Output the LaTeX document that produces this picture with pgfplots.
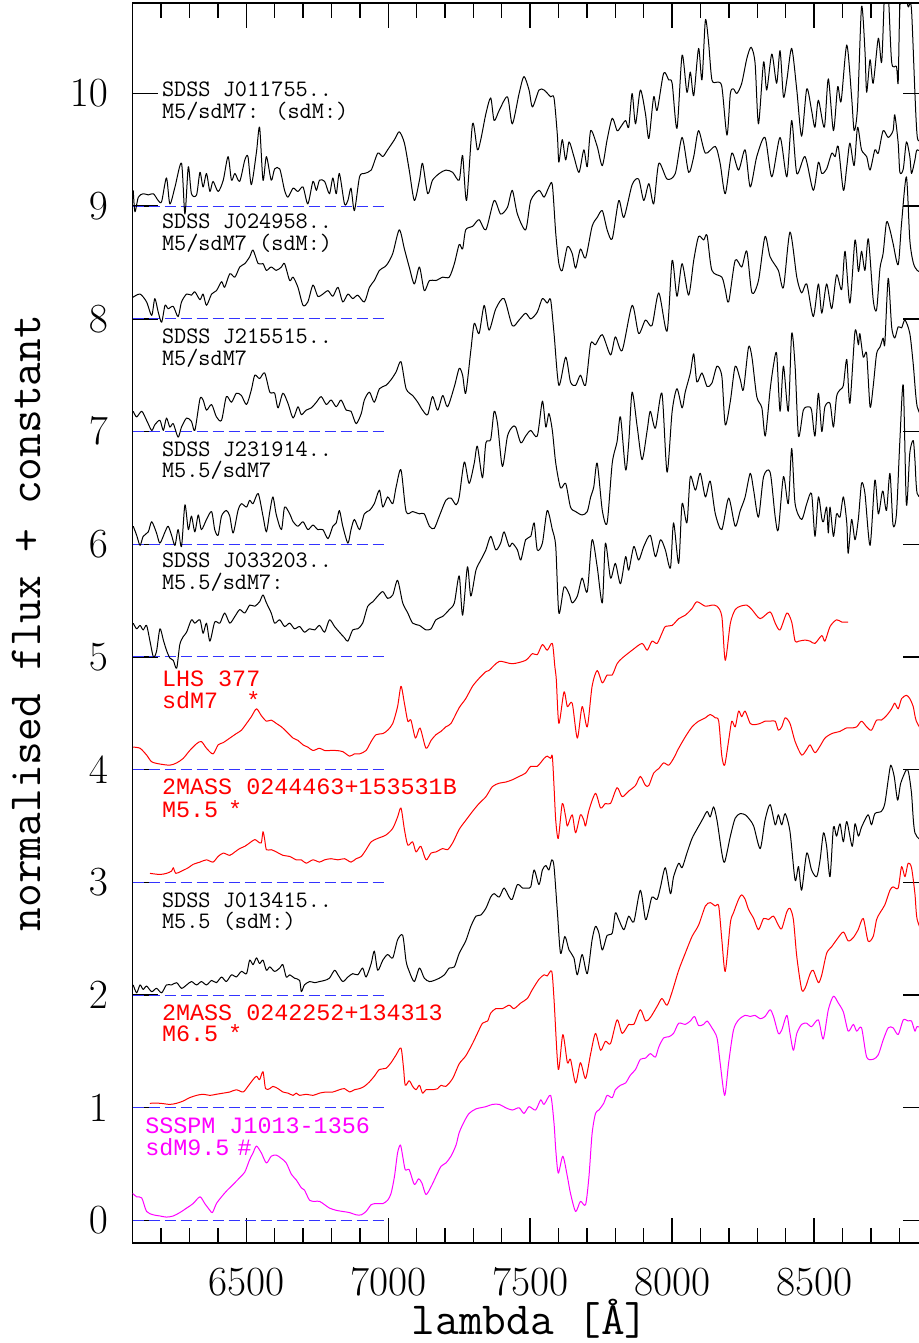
\documentclass[border=0pt]{standalone}
\usepackage{fontspec}
\usepackage{pgfplots}
\pgfplotsset{compat=1.18}
\newfontfamily\colfont{Liberation Mono}
\newcommand{\blackfont}{\ttfamily\fontsize{11.8}{13}\selectfont\addfontfeature{FakeBold=0.8}}
\newcommand{\cfont}{\colfont\fontsize{11.7}{13}\selectfont}
\newcommand{\labfont}{\ttfamily\fontsize{23}{26}\selectfont}
\definecolor{specred}{rgb}{1,0,0}
\definecolor{specmag}{rgb}{1,0,1}
\definecolor{baseblue}{rgb}{0.2,0.2,1}

\begin{document}
\begin{tikzpicture}
\begin{axis}[
  scale only axis, width=397.6pt, height=620pt,
  xmin=6100, xmax=8900, ymin=-0.2, ymax=10.8,
  xtick={6500,7000,7500,8000,8500},
  minor xtick={6200,6300,...,8800},
  ytick={0,1,...,10},
  major tick length=12.5pt, minor tick length=7.5pt,
  tick style={black, line width=0.7pt},
  axis line style={line width=0.8pt},
  tick label style={font=\fontsize{20.5}{24}\selectfont},
  xticklabel style={inner sep=0pt, yshift=-12.5pt},
  yticklabel style={inner sep=0pt, xshift=-12.2pt},
  scaled x ticks=false,
  xticklabel={\pgfmathprintnumber[fixed,set thousands separator={}]{\tick}},
  every axis plot/.append style={line width=0.5pt, line join=round},
  spec/.style={smooth, tension=0.45},
]
% zero levels of the offset spectra
\foreach \k in {0,...,9}{
  \edef\tmp{\noexpand\addplot[baseblue, dash pattern=on 5.5pt off 2.5pt, forget plot] coordinates {(6100,\k) (7000,\k)};}
  \tmp
}

% SDSS J011755.. (offset 9)
\addplot[black, spec] coordinates {(6102,9.14) (6108,8.95) (6120,9.08) (6137,9.11) (6155,9.10) (6173,9.11) (6190,9.05) (6202,9.04) (6219,9.25) (6231,9.02) (6249,9.17) (6272,9.38) (6284,8.93) (6296,9.35) (6307,9.11) (6325,9.10) (6337,9.30) (6348,9.17) (6360,9.29) (6372,9.13) (6383,9.22) (6401,9.13) (6419,9.23) (6436,9.44) (6448,9.23) (6460,9.29) (6477,9.22) (6495,9.41) (6506,9.44) (6518,9.19) (6536,9.48) (6547,9.70) (6559,9.23) (6571,9.44) (6588,9.23) (6600,9.33) (6618,9.33) (6635,9.14) (6647,9.08) (6665,9.16) (6682,9.13) (6700,9.17) (6717,9.02) (6735,9.22) (6747,9.14) (6758,9.23) (6776,9.22) (6793,9.11) (6805,9.25) (6817,9.11) (6828,9.29) (6846,9.02) (6858,9.05) (6869,9.16) (6881,8.96) (6899,9.26) (6916,9.29) (6940,9.32) (6963,9.47) (6981,9.44) (6998,9.50) (7022,9.59) (7039,9.66) (7057,9.56) (7074,9.32) (7092,9.05) (7110,9.23) (7121,9.38) (7139,9.11) (7156,9.23) (7180,9.29) (7203,9.32) (7227,9.30) (7250,9.23) (7262,9.45) (7276,9.05) (7297,9.73) (7314,9.50) (7326,9.59) (7344,9.82) (7361,9.96) (7373,9.76) (7391,9.85) (7420,9.97) (7437,9.73) (7461,10.00) (7478,10.15) (7496,10.03) (7508,9.88) (7531,10.03) (7549,10.03) (7572,9.97) (7584,9.96) (7596,9.62) (7601,9.39) (7613,9.59) (7625,9.41) (7637,9.57) (7654,9.44) (7672,9.30) (7689,9.50) (7701,9.35) (7713,9.67) (7736,9.53) (7754,9.36) (7771,9.59) (7789,9.78) (7806,9.67) (7818,9.70) (7836,9.76) (7847,9.70) (7859,10.00) (7871,9.73) (7888,10.03) (7906,9.82) (7918,9.60) (7935,9.97) (7947,9.85) (7970,10.18) (7988,10.12) (8000,10.09) (8017,9.69) (8035,10.34) (8052,10.01) (8064,10.19) (8076,9.98) (8093,10.40) (8105,10.12) (8117,10.65) (8128,10.46) (8140,10.12) (8158,10.10) (8175,10.06) (8193,9.63) (8205,10.00) (8216,10.04) (8228,10.00) (8245,10.09) (8263,10.31) (8278,10.41) (8292,10.27) (8304,9.73) (8322,10.28) (8333,10.03) (8351,10.35) (8368,10.09) (8380,10.38) (8392,9.97) (8404,10.12) (8421,10.40) (8439,10.03) (8456,9.62) (8474,10.04) (8491,9.85) (8503,9.70) (8515,9.94) (8536,9.70) (8550,10.13) (8568,9.67) (8583,10.06) (8595,9.93) (8615,10.43) (8632,9.97) (8641,9.67) (8653,9.88) (8667,10.77) (8679,10.38) (8685,10.01) (8697,10.30) (8708,10.09) (8726,10.49) (8738,10.28) (8749,10.95) (8760,10.95) (8773,10.28) (8790,10.24) (8796,10.10) (8802,10.77) (8815,10.95) (8831,10.77) (8843,10.74) (8863,9.62) (8890,9.70)};

% SDSS J024958.. (offset 8)
\addplot[black, spec] coordinates {(6100,8.19) (6126,8.22) (6149,8.15) (6167,8.03) (6178,8.18) (6190,8.06) (6202,7.97) (6214,8.12) (6225,8.09) (6243,8.11) (6260,8.02) (6272,8.15) (6290,8.22) (6307,8.21) (6319,8.24) (6337,8.17) (6348,8.22) (6360,8.12) (6378,8.22) (6395,8.25) (6413,8.33) (6424,8.28) (6442,8.40) (6460,8.37) (6477,8.46) (6495,8.49) (6512,8.55) (6524,8.61) (6542,8.49) (6559,8.49) (6571,8.43) (6588,8.46) (6606,8.43) (6624,8.46) (6635,8.49) (6653,8.34) (6665,8.37) (6682,8.28) (6700,8.12) (6717,8.15) (6735,8.30) (6752,8.20) (6770,8.22) (6788,8.25) (6805,8.20) (6823,8.28) (6840,8.15) (6858,8.22) (6875,8.18) (6893,8.21) (6916,8.15) (6934,8.28) (6951,8.34) (6969,8.43) (6987,8.46) (6998,8.49) (7016,8.58) (7039,8.79) (7057,8.62) (7074,8.46) (7092,8.31) (7110,8.46) (7127,8.25) (7145,8.34) (7168,8.34) (7192,8.37) (7215,8.37) (7233,8.49) (7250,8.66) (7262,8.62) (7273,8.79) (7297,8.82) (7320,8.88) (7344,8.79) (7373,9.05) (7396,8.93) (7420,8.99) (7437,9.14) (7455,8.93) (7484,8.79) (7502,9.05) (7531,9.14) (7549,9.08) (7566,9.17) (7578,9.19) (7590,8.76) (7601,8.49) (7613,8.43) (7631,8.64) (7648,8.58) (7660,8.45) (7677,8.62) (7695,8.54) (7718,8.82) (7736,8.90) (7754,8.96) (7771,8.79) (7789,8.71) (7812,9.05) (7830,8.90) (7859,9.19) (7882,9.24) (7900,9.05) (7918,9.20) (7935,9.02) (7953,9.38) (7982,9.24) (8011,9.29) (8035,9.61) (8058,9.30) (8076,9.44) (8093,9.67) (8117,9.47) (8152,9.53) (8169,9.38) (8187,9.11) (8210,9.47) (8234,9.32) (8257,9.50) (8275,9.17) (8298,9.44) (8327,9.61) (8351,9.26) (8380,9.61) (8404,9.26) (8421,9.76) (8439,9.29) (8468,9.44) (8497,9.14) (8515,9.39) (8527,9.29) (8544,9.33) (8562,9.47) (8574,9.44) (8585,9.53) (8603,9.14) (8615,9.35) (8626,9.56) (8641,9.36) (8653,9.70) (8667,9.50) (8685,9.44) (8697,9.32) (8714,9.50) (8726,9.47) (8743,9.67) (8761,9.61) (8778,9.67) (8784,9.81) (8796,9.56) (8802,9.30) (8814,9.33) (8825,9.57) (8837,9.44) (8843,9.29) (8855,9.41) (8863,9.50) (8890,9.45)};

% SDSS J215515.. (offset 7)
\addplot[black, spec] coordinates {(6102,7.18) (6114,7.13) (6132,7.18) (6149,7.10) (6167,7.01) (6178,7.06) (6196,7.10) (6208,7.01) (6219,7.12) (6231,7.04) (6243,7.07) (6260,6.95) (6272,7.04) (6290,7.12) (6307,7.09) (6319,7.01) (6337,7.29) (6348,7.28) (6360,7.19) (6378,7.24) (6395,7.13) (6413,7.10) (6430,7.31) (6448,7.26) (6465,7.34) (6483,7.32) (6501,7.24) (6518,7.37) (6530,7.50) (6547,7.47) (6565,7.52) (6583,7.35) (6600,7.34) (6612,7.21) (6629,7.34) (6647,7.25) (6665,7.12) (6682,7.22) (6694,7.15) (6711,7.19) (6729,7.21) (6747,7.26) (6764,7.31) (6782,7.24) (6799,7.28) (6817,7.22) (6834,7.28) (6852,7.19) (6869,7.18) (6887,7.07) (6905,7.16) (6916,7.28) (6934,7.35) (6951,7.26) (6969,7.38) (6992,7.41) (7010,7.46) (7028,7.53) (7045,7.62) (7063,7.38) (7086,7.32) (7104,7.26) (7121,7.19) (7139,7.15) (7156,7.31) (7174,7.19) (7192,7.32) (7209,7.22) (7233,7.40) (7250,7.56) (7262,7.50) (7273,7.34) (7291,7.72) (7303,7.96) (7320,7.87) (7338,8.12) (7355,7.90) (7379,8.09) (7408,8.18) (7437,7.94) (7461,7.99) (7484,8.05) (7502,8.00) (7525,8.06) (7543,8.18) (7560,8.14) (7572,8.17) (7584,7.87) (7601,7.41) (7625,7.66) (7642,7.44) (7660,7.41) (7677,7.50) (7695,7.41) (7713,7.78) (7730,7.77) (7754,7.86) (7783,7.68) (7800,7.84) (7824,7.72) (7859,8.12) (7882,7.87) (7906,7.99) (7929,7.94) (7953,8.23) (7982,7.89) (8000,8.52) (8017,8.20) (8035,8.49) (8058,8.21) (8076,8.52) (8093,8.73) (8111,8.70) (8123,8.74) (8140,8.43) (8175,8.37) (8187,8.26) (8199,8.15) (8222,8.52) (8245,8.46) (8263,8.60) (8281,8.23) (8304,8.34) (8327,8.73) (8345,8.55) (8374,8.43) (8392,8.28) (8415,8.77) (8439,8.37) (8456,8.23) (8474,8.31) (8497,8.02) (8515,8.31) (8527,8.05) (8544,8.31) (8562,8.09) (8579,8.39) (8597,8.26) (8609,8.60) (8626,8.14) (8644,8.70) (8656,8.42) (8667,8.60) (8679,8.43) (8691,8.71) (8708,8.17) (8720,8.08) (8732,8.45) (8743,8.58) (8755,8.86) (8767,8.79) (8778,8.67) (8796,8.48) (8808,8.85) (8825,9.26) (8837,8.70) (8849,8.50) (8863,8.43) (8890,8.40)};

% SDSS J231914.. (offset 6)
\addplot[black, spec] coordinates {(6102,6.16) (6114,6.08) (6126,5.99) (6137,6.07) (6155,6.11) (6167,6.20) (6184,6.10) (6196,6.01) (6214,6.11) (6225,6.16) (6237,6.08) (6249,5.99) (6260,6.13) (6272,5.98) (6284,6.35) (6296,6.13) (6307,6.25) (6319,6.11) (6331,6.26) (6342,6.13) (6360,6.22) (6378,6.29) (6389,6.13) (6401,6.08) (6413,6.25) (6430,6.30) (6442,6.25) (6454,6.10) (6471,6.30) (6483,6.36) (6501,6.33) (6512,6.39) (6524,6.36) (6542,6.45) (6559,6.25) (6571,6.11) (6583,6.29) (6594,6.42) (6606,6.26) (6624,6.13) (6635,6.33) (6653,6.27) (6665,6.20) (6682,6.16) (6700,6.20) (6717,6.13) (6735,6.17) (6752,6.13) (6770,6.13) (6788,6.05) (6805,6.16) (6817,6.19) (6828,6.30) (6840,6.16) (6858,6.01) (6869,6.13) (6881,6.22) (6899,6.13) (6916,6.27) (6934,6.30) (6951,6.36) (6969,6.48) (6981,6.33) (6998,6.42) (7016,6.36) (7028,6.51) (7045,6.66) (7063,6.29) (7086,6.29) (7110,6.27) (7127,6.27) (7145,6.16) (7162,6.14) (7180,6.25) (7203,6.39) (7221,6.41) (7239,6.35) (7250,6.42) (7268,6.73) (7285,6.54) (7303,6.72) (7314,6.87) (7332,6.59) (7344,6.90) (7361,6.93) (7373,7.18) (7385,7.07) (7402,6.69) (7420,6.96) (7437,7.04) (7449,7.04) (7467,6.90) (7484,6.96) (7502,7.01) (7525,6.96) (7543,7.27) (7555,7.04) (7566,7.16) (7578,7.01) (7590,6.72) (7607,6.50) (7625,6.54) (7642,6.33) (7660,6.29) (7683,6.26) (7701,6.29) (7713,6.42) (7724,6.51) (7736,6.72) (7754,6.30) (7771,6.19) (7789,6.72) (7806,6.91) (7818,7.13) (7836,6.66) (7847,6.90) (7859,7.35) (7877,7.04) (7894,6.75) (7912,7.01) (7923,7.18) (7941,7.03) (7964,7.34) (7982,6.64) (8000,7.18) (8017,7.38) (8035,7.21) (8046,7.35) (8064,7.52) (8076,7.69) (8087,7.44) (8105,7.52) (8123,7.40) (8140,7.43) (8158,7.58) (8175,7.49) (8187,7.06) (8205,7.27) (8222,7.58) (8240,7.46) (8251,7.37) (8269,7.75) (8281,7.66) (8298,7.31) (8316,7.21) (8328,6.96) (8345,7.37) (8357,7.59) (8368,7.69) (8380,7.18) (8392,7.58) (8409,7.18) (8421,7.87) (8433,7.58) (8445,6.96) (8462,7.19) (8480,7.22) (8491,7.19) (8503,6.96) (8515,7.34) (8527,7.00) (8538,7.22) (8556,7.25) (8568,7.04) (8579,7.31) (8591,7.37) (8603,7.41) (8615,7.64) (8626,7.25) (8644,7.89) (8656,7.77) (8661,7.87) (8673,7.66) (8685,7.69) (8697,7.22) (8708,7.40) (8720,7.69) (8732,7.75) (8743,7.83) (8749,7.78) (8761,8.36) (8773,7.93) (8784,7.83) (8796,7.93) (8808,7.92) (8820,7.99) (8837,7.87) (8849,7.60) (8863,7.22) (8890,7.10)};

% SDSS J033203.. (offset 5)
\addplot[black, spec] coordinates {(6102,5.30) (6114,5.25) (6126,5.28) (6137,5.24) (6149,5.28) (6161,5.14) (6173,5.00) (6184,5.05) (6196,5.25) (6208,5.15) (6219,5.06) (6231,4.99) (6243,4.97) (6255,4.90) (6266,5.11) (6278,5.18) (6290,5.22) (6307,5.33) (6319,5.30) (6337,5.33) (6348,5.21) (6360,5.30) (6372,5.14) (6389,5.31) (6407,5.30) (6424,5.39) (6442,5.30) (6460,5.36) (6477,5.42) (6495,5.39) (6512,5.46) (6530,5.45) (6547,5.49) (6559,5.55) (6571,5.48) (6588,5.39) (6600,5.30) (6618,5.33) (6635,5.27) (6653,5.30) (6670,5.25) (6688,5.27) (6705,5.22) (6723,5.25) (6741,5.24) (6758,5.28) (6776,5.22) (6793,5.33) (6811,5.27) (6828,5.22) (6846,5.17) (6858,5.14) (6875,5.24) (6893,5.25) (6910,5.30) (6928,5.45) (6946,5.49) (6963,5.54) (6981,5.58) (6998,5.52) (7016,5.55) (7033,5.68) (7051,5.48) (7069,5.39) (7086,5.30) (7110,5.28) (7133,5.24) (7151,5.25) (7168,5.33) (7192,5.36) (7215,5.42) (7233,5.48) (7250,5.72) (7262,5.37) (7279,5.80) (7291,5.54) (7309,5.77) (7326,5.86) (7344,5.95) (7361,6.07) (7379,5.95) (7396,6.01) (7408,6.11) (7426,5.98) (7437,6.01) (7455,5.95) (7467,5.86) (7484,6.04) (7502,6.07) (7514,6.19) (7525,5.95) (7543,6.01) (7560,6.30) (7578,6.13) (7590,5.98) (7601,5.39) (7619,5.62) (7637,5.56) (7648,5.48) (7666,5.54) (7683,5.70) (7701,5.58) (7718,6.04) (7736,5.80) (7754,5.48) (7765,6.01) (7783,5.70) (7800,5.83) (7818,5.65) (7836,5.89) (7847,5.77) (7865,5.98) (7882,5.86) (7900,5.98) (7923,6.08) (7941,5.89) (7959,6.04) (7976,5.95) (7994,5.79) (8005,6.19) (8023,5.83) (8035,6.36) (8052,6.19) (8064,6.60) (8082,6.48) (8099,6.63) (8117,6.42) (8134,6.56) (8152,6.27) (8175,6.13) (8199,6.41) (8222,6.16) (8240,6.30) (8257,6.42) (8275,6.63) (8287,6.48) (8304,6.24) (8322,6.60) (8345,6.64) (8363,6.24) (8374,6.13) (8392,6.60) (8409,6.36) (8421,6.85) (8433,6.36) (8456,6.22) (8474,6.36) (8491,6.45) (8503,6.07) (8515,6.42) (8527,6.23) (8533,6.20) (8544,6.33) (8550,6.10) (8556,6.33) (8568,6.07) (8579,6.27) (8591,6.24) (8603,6.42) (8615,6.19) (8620,5.92) (8632,6.22) (8644,6.04) (8656,6.23) (8667,6.54) (8679,6.45) (8697,5.99) (8714,6.57) (8726,6.27) (8738,6.44) (8743,6.47) (8755,6.30) (8767,6.63) (8778,6.17) (8790,6.27) (8802,6.92) (8814,7.41) (8825,6.35) (8837,6.81) (8849,6.92) (8855,6.75) (8863,6.45) (8890,6.40)};

% LHS 377 (offset 4)
\addplot[specred, spec] coordinates {(6102,4.20) (6126,4.19) (6149,4.13) (6167,4.07) (6196,4.05) (6231,4.04) (6255,4.06) (6278,4.10) (6301,4.17) (6325,4.23) (6342,4.25) (6360,4.19) (6383,4.14) (6401,4.22) (6419,4.24) (6442,4.28) (6465,4.32) (6483,4.35) (6501,4.41) (6518,4.47) (6536,4.54) (6553,4.48) (6571,4.43) (6588,4.44) (6606,4.41) (6624,4.38) (6641,4.34) (6665,4.28) (6682,4.26) (6700,4.22) (6717,4.20) (6735,4.17) (6758,4.19) (6776,4.17) (6793,4.17) (6817,4.17) (6840,4.16) (6864,4.12) (6881,4.14) (6899,4.14) (6922,4.17) (6940,4.25) (6957,4.31) (6981,4.32) (6998,4.35) (7016,4.41) (7033,4.56) (7045,4.74) (7057,4.59) (7069,4.43) (7080,4.44) (7096,4.28) (7112,4.37) (7133,4.19) (7151,4.26) (7168,4.31) (7186,4.34) (7203,4.38) (7221,4.41) (7250,4.55) (7273,4.63) (7297,4.74) (7320,4.81) (7344,4.87) (7355,4.88) (7391,4.96) (7437,4.94) (7484,4.97) (7508,5.03) (7525,5.02) (7543,5.11) (7560,5.06) (7578,5.12) (7587,4.91) (7592,4.80) (7601,4.41) (7619,4.69) (7631,4.56) (7648,4.59) (7666,4.28) (7683,4.56) (7701,4.38) (7718,4.74) (7736,4.88) (7754,4.77) (7771,4.84) (7789,4.84) (7806,4.94) (7824,4.99) (7859,5.06) (7894,5.12) (7912,5.06) (7929,5.14) (7947,5.12) (7964,5.21) (7976,5.27) (8000,5.28) (8023,5.34) (8046,5.37) (8070,5.43) (8087,5.49) (8117,5.45) (8140,5.46) (8158,5.45) (8175,5.36) (8187,4.97) (8205,5.30) (8222,5.42) (8240,5.45) (8263,5.46) (8281,5.42) (8310,5.34) (8345,5.40) (8363,5.30) (8380,5.24) (8404,5.39) (8421,5.31) (8433,5.14) (8445,5.14) (8468,5.15) (8486,5.14) (8503,5.12) (8527,5.19) (8538,5.14) (8556,5.27) (8579,5.33) (8597,5.31) (8620,5.31)};

% 2MASS 0244463+153531B (offset 3)
\addplot[specred, spec] coordinates {(6161,3.08) (6196,3.07) (6219,3.08) (6237,3.10) (6243,3.13) (6252,3.08) (6272,3.10) (6296,3.13) (6313,3.16) (6337,3.18) (6360,3.20) (6383,3.18) (6401,3.23) (6419,3.26) (6442,3.24) (6460,3.27) (6477,3.30) (6495,3.32) (6512,3.35) (6530,3.38) (6542,3.36) (6553,3.35) (6559,3.45) (6565,3.38) (6571,3.29) (6588,3.29) (6606,3.27) (6629,3.24) (6653,3.23) (6676,3.20) (6694,3.20) (6711,3.17) (6735,3.20) (6758,3.18) (6776,3.20) (6799,3.21) (6823,3.20) (6846,3.21) (6869,3.18) (6887,3.21) (6905,3.23) (6922,3.29) (6940,3.36) (6963,3.39) (6992,3.42) (7016,3.48) (7033,3.58) (7045,3.66) (7057,3.47) (7069,3.33) (7086,3.36) (7098,3.27) (7115,3.32) (7133,3.20) (7151,3.26) (7168,3.27) (7192,3.30) (7209,3.29) (7227,3.35) (7250,3.47) (7273,3.55) (7297,3.63) (7320,3.70) (7344,3.76) (7367,3.85) (7391,3.88) (7414,3.89) (7437,3.91) (7461,3.94) (7484,3.97) (7502,4.03) (7525,4.03) (7549,4.10) (7560,4.12) (7572,4.10) (7578,4.12) (7584,3.85) (7590,3.55) (7599,3.39) (7613,3.70) (7625,3.58) (7631,3.50) (7648,3.60) (7660,3.44) (7677,3.60) (7689,3.55) (7695,3.50) (7707,3.64) (7730,3.79) (7748,3.66) (7765,3.70) (7783,3.70) (7806,3.84) (7824,3.76) (7847,3.81) (7871,3.86) (7888,3.94) (7906,3.86) (7918,3.86) (7935,3.97) (7953,4.01) (7970,4.06) (7988,4.04) (8005,4.10) (8023,4.19) (8046,4.29) (8070,4.38) (8093,4.43) (8117,4.46) (8134,4.49) (8152,4.46) (8164,4.43) (8175,4.12) (8185,4.04) (8199,4.26) (8210,4.43) (8222,4.38) (8234,4.52) (8245,4.47) (8257,4.52) (8275,4.41) (8292,4.40) (8310,4.41) (8327,4.43) (8345,4.43) (8363,4.43) (8374,4.35) (8386,4.38) (8398,4.46) (8415,4.41) (8433,4.25) (8456,4.13) (8474,4.18) (8486,4.22) (8503,4.15) (8521,4.21) (8538,4.28) (8562,4.32) (8591,4.34) (8614,4.37) (8632,4.37) (8650,4.38) (8667,4.43) (8685,4.38) (8702,4.35) (8720,4.44) (8737,4.44) (8755,4.48) (8773,4.54) (8784,4.59) (8796,4.54) (8808,4.63) (8825,4.66) (8837,4.63) (8849,4.56) (8860,4.43) (8890,4.30)};

% SDSS J013415.. (offset 2)
\addplot[black, spec] coordinates {(6102,2.09) (6114,2.02) (6126,2.09) (6137,2.05) (6149,2.08) (6167,2.03) (6184,2.06) (6202,2.02) (6219,2.09) (6237,2.09) (6255,2.11) (6272,2.06) (6290,2.09) (6307,2.12) (6325,2.09) (6342,2.12) (6360,2.09) (6378,2.13) (6395,2.11) (6413,2.16) (6430,2.12) (6448,2.18) (6465,2.16) (6483,2.21) (6501,2.19) (6512,2.31) (6524,2.27) (6536,2.33) (6547,2.28) (6559,2.31) (6571,2.22) (6583,2.25) (6600,2.21) (6618,2.24) (6629,2.27) (6641,2.16) (6653,2.18) (6670,2.15) (6688,2.13) (6694,2.03) (6705,2.09) (6723,2.12) (6741,2.11) (6758,2.12) (6776,2.13) (6793,2.15) (6811,2.22) (6823,2.18) (6840,2.12) (6858,2.16) (6875,2.19) (6893,2.18) (6910,2.24) (6922,2.16) (6940,2.28) (6951,2.39) (6963,2.22) (6981,2.31) (6998,2.36) (7016,2.33) (7033,2.49) (7051,2.53) (7063,2.30) (7074,2.21) (7092,2.12) (7110,2.24) (7127,2.15) (7145,2.12) (7162,2.13) (7180,2.15) (7198,2.18) (7215,2.24) (7233,2.25) (7250,2.37) (7273,2.48) (7291,2.61) (7309,2.70) (7326,2.71) (7344,2.77) (7361,2.87) (7373,2.90) (7391,2.87) (7408,2.95) (7426,2.87) (7437,2.85) (7455,2.98) (7473,2.95) (7490,2.95) (7502,2.96) (7514,3.11) (7531,2.98) (7543,3.11) (7555,3.15) (7566,3.11) (7576,3.20) (7584,3.14) (7596,2.73) (7607,2.37) (7622,2.52) (7637,2.40) (7654,2.33) (7666,2.18) (7683,2.36) (7701,2.19) (7718,2.49) (7730,2.61) (7742,2.55) (7754,2.40) (7771,2.53) (7789,2.55) (7800,2.73) (7812,2.67) (7830,2.58) (7847,2.70) (7865,2.65) (7888,2.93) (7906,2.67) (7918,2.76) (7929,2.87) (7947,2.85) (7959,2.96) (7976,3.13) (7994,2.90) (8005,3.05) (8023,3.17) (8035,3.13) (8052,3.26) (8070,3.39) (8087,3.47) (8105,3.55) (8123,3.63) (8134,3.58) (8146,3.67) (8158,3.55) (8175,3.26) (8185,3.18) (8205,3.41) (8222,3.57) (8240,3.61) (8257,3.60) (8269,3.57) (8287,3.50) (8310,3.30) (8327,3.55) (8345,3.69) (8363,3.51) (8374,3.60) (8386,3.51) (8398,3.61) (8415,3.45) (8433,3.02) (8445,3.14) (8456,2.93) (8474,3.26) (8491,3.11) (8509,3.05) (8521,3.20) (8533,3.44) (8544,3.32) (8556,3.05) (8568,3.49) (8579,3.41) (8591,3.52) (8603,3.36) (8615,3.54) (8634,3.32) (8644,3.52) (8656,3.41) (8667,3.49) (8690,3.60) (8702,3.51) (8714,3.61) (8737,3.63) (8749,3.70) (8761,3.91) (8770,4.04) (8782,3.94) (8794,3.73) (8805,3.88) (8825,4.00) (8833,3.97) (8843,3.79) (8855,3.44) (8890,3.35)};

% 2MASS 0242252+134313 (offset 1)
\addplot[specred, spec] coordinates {(6161,1.04) (6196,1.04) (6231,1.03) (6255,1.04) (6278,1.06) (6301,1.09) (6325,1.11) (6348,1.12) (6372,1.11) (6395,1.12) (6419,1.13) (6442,1.14) (6465,1.16) (6489,1.14) (6506,1.19) (6524,1.25) (6536,1.28) (6547,1.25) (6559,1.32) (6568,1.17) (6583,1.17) (6594,1.19) (6612,1.17) (6629,1.14) (6647,1.13) (6665,1.11) (6676,1.13) (6688,1.11) (6711,1.12) (6735,1.11) (6758,1.13) (6782,1.14) (6805,1.14) (6828,1.16) (6846,1.17) (6864,1.14) (6881,1.16) (6899,1.17) (6916,1.19) (6934,1.23) (6951,1.28) (6969,1.34) (6992,1.35) (7010,1.40) (7028,1.47) (7045,1.53) (7054,1.35) (7060,1.20) (7074,1.24) (7086,1.19) (7098,1.16) (7110,1.20) (7121,1.13) (7133,1.16) (7156,1.16) (7174,1.17) (7186,1.20) (7203,1.19) (7227,1.26) (7250,1.39) (7273,1.46) (7297,1.57) (7314,1.66) (7332,1.75) (7350,1.77) (7361,1.84) (7379,1.88) (7402,1.88) (7426,1.91) (7443,1.88) (7467,1.93) (7490,1.97) (7508,2.05) (7531,2.14) (7549,2.18) (7560,2.17) (7576,2.21) (7584,1.96) (7599,1.34) (7615,1.65) (7631,1.40) (7642,1.43) (7660,1.22) (7677,1.40) (7695,1.26) (7713,1.48) (7730,1.66) (7748,1.51) (7765,1.59) (7783,1.57) (7806,1.78) (7824,1.66) (7847,1.74) (7865,1.74) (7888,1.87) (7906,1.77) (7923,1.80) (7947,1.90) (7964,1.97) (7982,1.91) (8000,2.03) (8023,2.22) (8046,2.37) (8070,2.52) (8093,2.62) (8117,2.79) (8134,2.82) (8152,2.79) (8164,2.79) (8175,2.49) (8187,2.21) (8205,2.64) (8216,2.73) (8234,2.85) (8245,2.89) (8257,2.85) (8269,2.76) (8287,2.68) (8304,2.58) (8322,2.68) (8339,2.67) (8357,2.70) (8374,2.62) (8386,2.59) (8404,2.74) (8415,2.77) (8427,2.67) (8439,2.34) (8456,2.05) (8468,2.06) (8486,2.19) (8497,2.22) (8515,2.11) (8527,2.18) (8544,2.37) (8562,2.43) (8579,2.49) (8603,2.56) (8620,2.48) (8638,2.51) (8655,2.58) (8673,2.68) (8690,2.48) (8708,2.52) (8720,2.67) (8732,2.73) (8749,2.80) (8767,2.93) (8778,2.96) (8796,2.95) (8808,3.14) (8820,3.05) (8831,3.17) (8843,3.13) (8855,2.90) (8863,2.67) (8890,2.50)};

% SSSPM J1013-1356 (offset 0)
\addplot[specmag, spec] coordinates {(6100,0.24) (6114,0.21) (6132,0.20) (6149,0.08) (6173,0.05) (6196,0.04) (6219,0.03) (6243,0.04) (6266,0.07) (6290,0.11) (6313,0.15) (6337,0.21) (6354,0.15) (6372,0.09) (6381,0.07) (6395,0.15) (6413,0.21) (6430,0.26) (6454,0.32) (6477,0.38) (6495,0.43) (6512,0.54) (6524,0.60) (6536,0.66) (6553,0.60) (6571,0.51) (6588,0.57) (6606,0.58) (6624,0.55) (6641,0.51) (6659,0.41) (6676,0.36) (6694,0.29) (6705,0.27) (6723,0.18) (6741,0.17) (6758,0.17) (6776,0.14) (6793,0.11) (6817,0.09) (6840,0.08) (6864,0.07) (6887,0.05) (6905,0.05) (6922,0.08) (6940,0.14) (6957,0.15) (6981,0.15) (6998,0.18) (7010,0.24) (7022,0.39) (7033,0.60) (7043,0.67) (7051,0.57) (7060,0.45) (7074,0.45) (7092,0.32) (7107,0.37) (7119,0.33) (7133,0.23) (7151,0.30) (7168,0.39) (7186,0.48) (7203,0.51) (7221,0.57) (7239,0.67) (7250,0.78) (7268,0.88) (7285,0.95) (7309,0.99) (7344,1.01) (7367,1.03) (7391,1.03) (7414,1.00) (7437,0.98) (7461,1.00) (7478,0.95) (7496,1.01) (7519,0.98) (7537,1.07) (7549,1.03) (7572,1.11) (7584,0.86) (7590,0.63) (7599,0.42) (7615,0.57) (7631,0.39) (7642,0.24) (7660,0.08) (7677,0.17) (7695,0.14) (7707,0.39) (7718,0.77) (7730,0.95) (7742,0.98) (7759,1.04) (7771,1.11) (7789,1.09) (7800,1.16) (7818,1.20) (7836,1.22) (7853,1.29) (7871,1.34) (7888,1.43) (7906,1.44) (7923,1.48) (7941,1.45) (7953,1.54) (7970,1.62) (7988,1.63) (8005,1.66) (8023,1.75) (8046,1.74) (8064,1.77) (8079,1.81) (8093,1.73) (8111,1.74) (8123,1.77) (8140,1.71) (8158,1.62) (8169,1.40) (8185,1.11) (8199,1.40) (8216,1.69) (8234,1.78) (8257,1.82) (8275,1.81) (8292,1.82) (8310,1.79) (8327,1.81) (8345,1.87) (8357,1.81) (8374,1.66) (8386,1.69) (8404,1.82) (8415,1.66) (8427,1.51) (8439,1.66) (8456,1.74) (8474,1.75) (8491,1.72) (8515,1.78) (8532,1.61) (8550,1.87) (8568,1.99) (8585,1.93) (8603,1.85) (8620,1.68) (8638,1.74) (8650,1.68) (8667,1.71) (8685,1.45) (8708,1.43) (8726,1.47) (8743,1.60) (8761,1.71) (8778,1.71) (8796,1.65) (8814,1.78) (8831,1.77) (8843,1.77) (8855,1.68) (8863,1.72) (8890,1.70)};

% spectrum names and classes
\node[anchor=base west, inner sep=0pt, font=\blackfont] at (axis cs:6202,9.97) {SDSS J011755..};
\node[anchor=base west, inner sep=0pt, font=\blackfont] at (axis cs:6202,9.78) {M5/sdM7: (sdM:)};
\node[anchor=base west, inner sep=0pt, font=\blackfont] at (axis cs:6202,8.80) {SDSS J024958..};
\node[anchor=base west, inner sep=0pt, font=\blackfont] at (axis cs:6202,8.61) {M5/sdM7 (sdM:)};
\node[anchor=base west, inner sep=0pt, font=\blackfont] at (axis cs:6202,7.78) {SDSS J215515..};
\node[anchor=base west, inner sep=0pt, font=\blackfont] at (axis cs:6202,7.59) {M5/sdM7};
\node[anchor=base west, inner sep=0pt, font=\blackfont] at (axis cs:6202,6.78) {SDSS J231914..};
\node[anchor=base west, inner sep=0pt, font=\blackfont] at (axis cs:6202,6.59) {M5.5/sdM7};
\node[anchor=base west, inner sep=0pt, font=\blackfont] at (axis cs:6202,5.79) {SDSS J033203..};
\node[anchor=base west, inner sep=0pt, font=\blackfont] at (axis cs:6202,5.60) {M5.5/sdM7:};
\node[anchor=base west, inner sep=0pt, font=\cfont, text=specred] at (axis cs:6202,4.74) {LHS 377};
\node[anchor=base west, inner sep=0pt, font=\cfont, text=specred] at (axis cs:6202,4.54) {sdM7~~*};
\node[anchor=base west, inner sep=0pt, font=\cfont, text=specred] at (axis cs:6202,3.78) {2MASS 0244463+153531B};
\node[anchor=base west, inner sep=0pt, font=\cfont, text=specred] at (axis cs:6202,3.58) {M5.5~\kern-2pt*};
\node[anchor=base west, inner sep=0pt, font=\blackfont] at (axis cs:6202,2.78) {SDSS J013415..};
\node[anchor=base west, inner sep=0pt, font=\blackfont] at (axis cs:6202,2.59) {M5.5 (sdM:)};
\node[anchor=base west, inner sep=0pt, font=\cfont, text=specred] at (axis cs:6202,1.77) {2MASS 0242252+134313};
\node[anchor=base west, inner sep=0pt, font=\cfont, text=specred] at (axis cs:6202,1.59) {M6.5~\kern-2pt*};
\node[anchor=base west, inner sep=0pt, font=\cfont, text=specmag] at (axis cs:6143,0.775) {SSSPM J1013-1356};
\node[anchor=base west, inner sep=0pt, font=\cfont, text=specmag] at (axis cs:6143,0.58) {sdM9.5~\kern-3pt\#};

\coordinate (bl) at (rel axis cs:0,0);
\coordinate (tr) at (rel axis cs:1,1);
\coordinate (yl) at (rel axis cs:0,0.5);
\coordinate (xl) at (rel axis cs:0.5,0);
\end{axis}
\node[rotate=90, anchor=base, inner sep=0pt, font=\labfont] at ([xshift=-45.85pt]yl) {normalised flux + constant};
\node[anchor=base, inner sep=0pt, font=\labfont] at ([yshift=-45.9pt]xl) {lambda [Å]};
\pgfresetboundingbox
\path[use as bounding box] ([xshift=-66.35pt,yshift=-50pt]bl) rectangle ([xshift=-4.5pt,yshift=1.65pt]tr);
\end{tikzpicture}
\end{document}
